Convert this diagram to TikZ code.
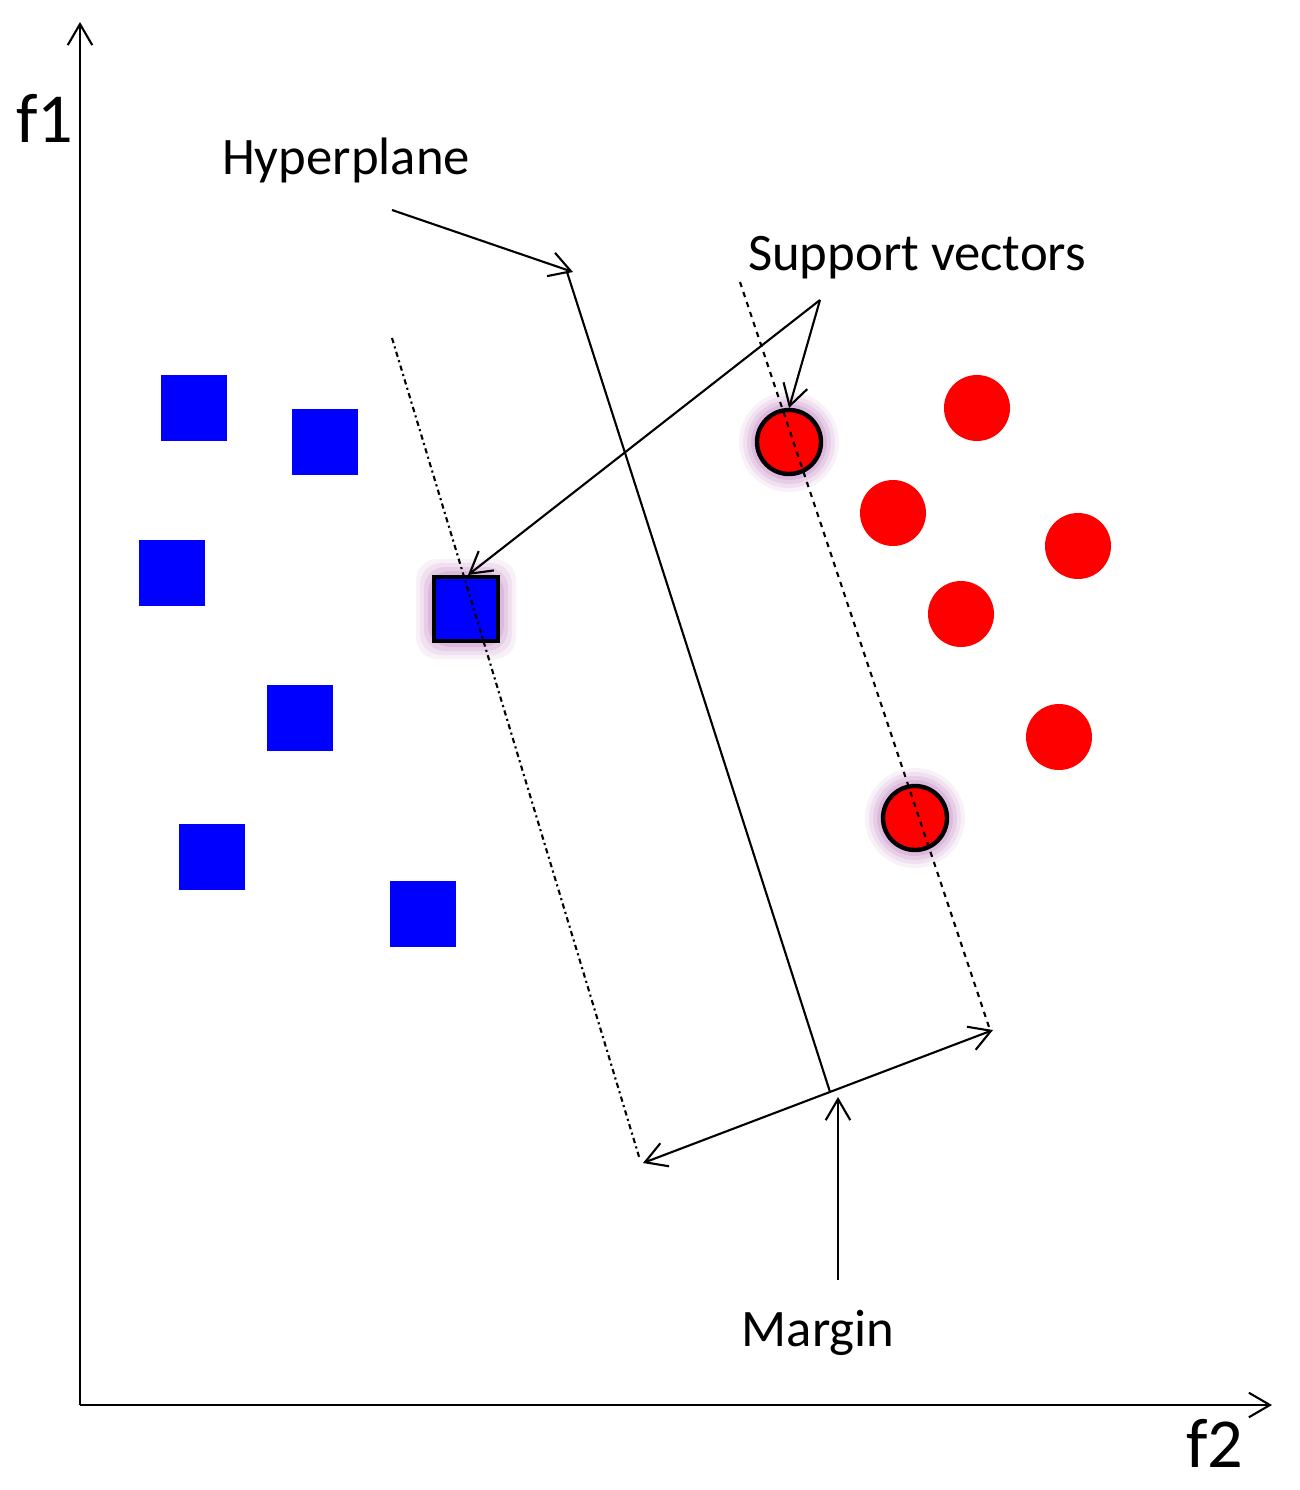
\documentclass[tikz,border=0pt]{standalone}
\usepackage{fontspec}
\setmainfont{Carlito}
\usetikzlibrary{arrows.meta}
\begin{document}
\begin{tikzpicture}[x=0.02cm,y=-0.02cm,
  tip/.style={-{Straight Barb[length=12pt,width=14pt]}},
  lbl/.style={font=\fontsize{30}{34}\selectfont},
  bsq/.style={fill=blue,minimum size=66*0.02cm,inner sep=0,draw=none},
  rci/.style={circle,fill=red,minimum size=66*0.02cm,inner sep=0,draw=none},
  ln/.style={line width=1.2pt}]
\useasboundingbox (0,0) rectangle (1299,1490);
% axes
\coordinate (o) at (80,1405);
\coordinate (ytop) at (80,22);
\coordinate (xend) at (1272,1405);
\draw[ln,tip] (o) -- (ytop);
\draw[ln,tip] (o) -- (xend);
\node[font=\fontsize{40}{44}\selectfont] (f1) at (45,118) {f1};
\node[font=\fontsize{40}{44}\selectfont] (f2) at (1215,1443) {f2};
% blue squares
\foreach \p/\n in {{194,408}/b1,{325,442}/b2,{172,573}/b3,{300,718}/b4,{212,857}/b5,{423,914}/b6}
  \node[bsq] (\n) at (\p) {};
% red circles
\foreach \p/\n in {{977,408}/r1,{893,513}/r2,{1078,546}/r3,{961,614}/r4,{1059,737}/r5}
  \node[rci] (\n) at (\p) {};
% glows
\foreach \r/\o in {50/0.08,46/0.1,42/0.12,38/0.15} {
  \fill[violet!70,opacity=\o] (789,442) circle (\r);
  \fill[violet!70,opacity=\o] (915,818) circle (\r);
  \fill[violet!70,opacity=\o,rounded corners=12] (466-\r,609-\r) rectangle (466+\r,609+\r);
}
\node[draw=black,line width=2.5pt,fill=blue,minimum size=64*0.02cm,inner sep=0] (sq) at (466,609) {};
\node[rci,draw=black,line width=2.5pt,minimum size=64*0.02cm] (sv1) at (789,442) {};
\node[rci,draw=black,line width=2.5pt,minimum size=64*0.02cm] (sv2) at (915,818) {};
% lines
\coordinate (h1) at (567,272); \coordinate (h2) at (830,1092);
\draw[ln] (h1) -- (h2);
\coordinate (d1) at (392,338); \coordinate (d2) at (640,1160);
\draw[ln,dash dot] (d1) -- (d2);
\coordinate (e1) at (740,282); \coordinate (e2) at (990,1030);
\draw[ln,dashed] (e1) -- (e2);
% margin
\coordinate (m1) at (643,1163); \coordinate (m2) at (993,1030);
\draw[ln,{Straight Barb[length=12pt,width=14pt]}-{Straight Barb[length=12pt,width=14pt]}] (m1) -- (m2);
\coordinate (mb) at (838,1280); \coordinate (mt) at (838,1097);
\draw[ln,tip] (mb) -- (mt);
% labels
\node[lbl] (hyp) at (346,160) {Hyperplane};
\coordinate (ha) at (392,210);
\draw[ln,tip] (ha) -- (573,272);
\node[lbl] (sup) at (917,258) {Support vectors};
\coordinate (sa) at (820,300);
\draw[ln,tip] (sa) -- (789,408);
\draw[ln,tip] (sa) -- (468,575);
\node[lbl] (mar) at (818,1333) {Margin};
\end{tikzpicture}
\end{document}
